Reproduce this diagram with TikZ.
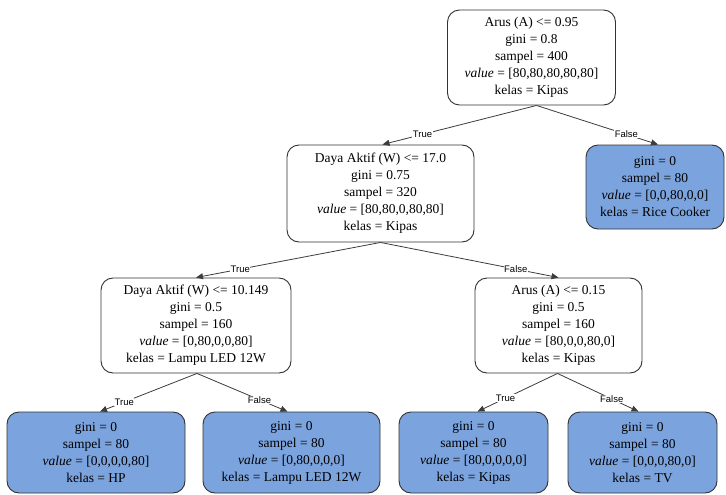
\documentclass[tikz,border=0pt]{standalone}
\usepackage{fontspec}
\setmainfont{Liberation Serif}
\newfontfamily\lblfont{Liberation Sans}
\usetikzlibrary{arrows.meta}
\definecolor{leafblue}{RGB}{123,163,222}
\definecolor{edgegray}{RGB}{60,60,60}
\definecolor{boxgray}{RGB}{50,50,50}
\begin{document}
\begin{tikzpicture}[x=1pt,y=-1pt,
  tnode/.style={draw=boxgray, line width=0.9pt, rounded corners=12pt, align=center,
    font=\fontsize{13.5}{17}\selectfont, inner sep=0pt},
  innernode/.style={tnode, fill=white, minimum height=95pt},
  leafnode/.style={tnode, fill=leafblue, minimum height=81pt},
  conn/.style={draw=edgegray, line width=0.8pt, -{Triangle[length=7pt,width=6pt]}},
  lbl/.style={font=\lblfont\fontsize{9.5}{10}\selectfont, fill=white, inner sep=0.6pt}]
\useasboundingbox (0,0) rectangle (726,495);
% nodes
\node[innernode, minimum width=168pt] (root) at (531.5,57.5)
  {Arus (A) <= 0.95\\gini = 0.8\\sampel = 400\\\textit{value} = [80,80,80,80,80]\\kelas = Kipas};
\node[innernode, minimum width=187pt, minimum height=97pt] (d17) at (380.5,193.5)
  {Daya Aktif (W) <= 17.0\\gini = 0.75\\sampel = 320\\\textit{value} = [80,80,0,80,80]\\kelas = Kipas};
\node[leafnode, minimum width=138pt, minimum height=84pt] (rice) at (655,187)
  {gini = 0\\sampel = 80\\\textit{value} = [0,0,80,0,0]\\kelas = Rice Cooker};
\node[innernode, minimum width=190pt] (d10) at (196,325.5)
  {Daya Aktif (W) <= 10.149\\gini = 0.5\\sampel = 160\\\textit{value} = [0,80,0,0,80]\\kelas = Lampu LED 12W};
\node[innernode, minimum width=167pt] (a15) at (558.5,325.5)
  {Arus (A) <= 0.15\\gini = 0.5\\sampel = 160\\\textit{value} = [80,0,0,80,0]\\kelas = Kipas};
\node[leafnode, minimum width=178pt] (hp) at (96,452.5)
  {gini = 0\\sampel = 80\\\textit{value} = [0,0,0,0,80]\\kelas = HP};
\node[leafnode, minimum width=177pt] (led) at (291.5,452.5)
  {gini = 0\\sampel = 80\\\textit{value} = [0,80,0,0,0]\\kelas = Lampu LED 12W};
\node[leafnode, minimum width=149pt] (kipas) at (473.5,452.5)
  {gini = 0\\sampel = 80\\\textit{value} = [80,0,0,0,0]\\kelas = Kipas};
\node[leafnode, minimum width=149pt] (tv) at (642.5,452.5)
  {gini = 0\\sampel = 80\\\textit{value} = [0,0,0,80,0]\\kelas = TV};
% connectors
\draw[conn] ([xshift=5pt]root.south) -- ([xshift=2pt]d17.north) node[lbl, pos=0.74] (t1) {True};
\draw[conn] ([xshift=5pt]root.south) -- ([xshift=3pt]rice.north) node[lbl, pos=0.74] (f1) {False};
\draw[conn] (d17.south) -- (d10.north) node[lbl, pos=0.76] (t2) {True};
\draw[conn] (d17.south) -- (a15.north) node[lbl, pos=0.76] (f2) {False};
\draw[conn] ([xshift=1pt]d10.south) -- ([xshift=4pt]hp.north) node[lbl, pos=0.75] (t3) {True};
\draw[conn] ([xshift=1pt]d10.south) -- ([xshift=-4pt]led.north) node[lbl, pos=0.69] (f3) {False};
\draw[conn] ([xshift=-1pt]a15.south) -- ([xshift=4pt]kipas.north) node[lbl, pos=0.65] (t4) {True};
\draw[conn] ([xshift=-1pt]a15.south) -- ([xshift=-4pt]tv.north) node[lbl, pos=0.67] (f4) {False};
\end{tikzpicture}
\end{document}
